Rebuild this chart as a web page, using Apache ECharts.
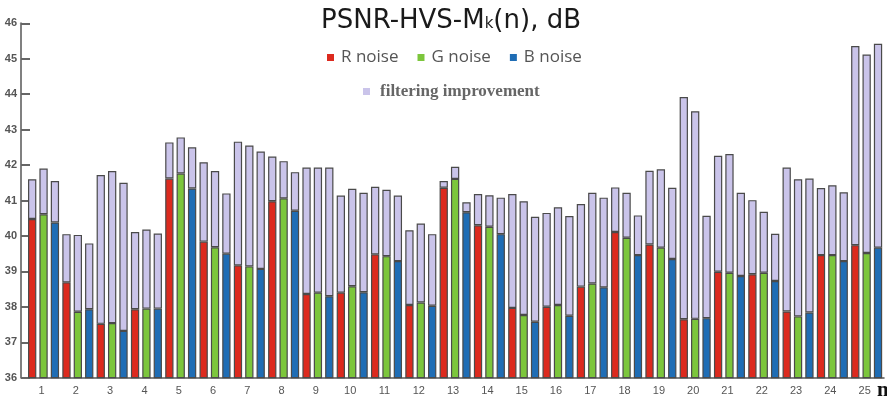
<!DOCTYPE html>
<html>
<head>
<meta charset="utf-8">
<script src="https://cdn.jsdelivr.net/npm/echarts@6/dist/echarts.min.js"></script>
<style>html,body{margin:0;padding:0;background:#fff}#c{width:887px;height:402px}</style>
</head>
<body>
<div id="c"></div>
<script>
const categories = ['1','2','3','4','5','6','7','8','9','10','11','12','13','14','15','16','17','18','19','20','21','22','23','24','25'];
const rNoise = [40.48,38.69,37.52,37.93,41.62,39.84,39.17,40.98,38.36,38.40,39.48,38.05,41.36,40.30,37.97,38.00,38.57,40.11,39.76,37.65,38.99,38.92,37.87,39.46,39.74];
const gNoise = [40.61,37.86,37.54,37.95,41.76,39.68,39.14,41.06,38.40,38.58,39.43,38.12,41.61,40.26,37.77,38.05,38.66,39.95,39.67,37.66,38.96,38.96,37.73,39.46,39.52];
const bNoise = [40.38,37.93,37.32,37.95,41.34,39.50,39.07,40.71,38.30,38.41,39.29,38.03,40.67,40.05,37.58,37.75,38.55,39.46,39.35,37.68,38.87,38.73,37.84,39.29,39.67];
const rImprove = [1.12,1.36,4.20,2.18,1.02,2.24,3.49,1.26,3.57,2.74,1.91,2.11,0.19,0.88,3.21,2.65,2.33,1.26,2.08,6.27,3.27,2.09,4.06,1.89,5.62];
const gImprove = [1.29,2.17,4.29,2.23,1.02,2.15,3.41,1.05,3.53,2.75,1.87,2.23,0.34,0.89,3.21,2.76,2.56,1.27,2.21,5.86,3.35,1.72,3.87,1.97,5.60];
const bImprove = [1.17,1.86,4.18,2.12,1.16,1.70,3.31,1.09,3.63,2.81,1.85,2.02,0.28,1.03,2.96,2.81,2.53,1.12,2.01,2.89,2.35,1.33,3.78,1.94,5.75];
const yTicks = {min: 36, max: 46, interval: 1};

const RED = '#dc2a1e', GREEN = '#7cc63c', BLUE = '#1f6db5', LAV = '#cac4ea';
const border = {borderColor: '#4a4a4a', borderWidth: 1.2};
const BW = 8.3;

function bar(name, data, stack, color) {
  return {
    name, type: 'bar', stack, data, barWidth: BW, barGap: '37%',
    itemStyle: Object.assign({color}, border),
    emphasis: {disabled: true}, animation: false
  };
}

const chart = echarts.init(document.getElementById('c'), null, {renderer: 'canvas'});
chart.setOption({
  animation: false,
  title: [{
    text: '{a|PSNR-HVS-M}{b|k}{a|(n), dB}',
    left: 321, top: 6, padding: 0,
    textStyle: {
      rich: {
        a: {fontFamily: 'DejaVu Sans', fontSize: 26, fontWeight: 'normal', color: '#1a1a1a', lineHeight: 30},
        b: {fontFamily: 'DejaVu Sans', fontSize: 15, fontWeight: 'normal', color: '#1a1a1a', lineHeight: 30, verticalAlign: 'bottom', padding: [0, 0, 4, 0]}
      }
    }
  }, {
    text: 'n', left: 877, top: 380, padding: 0,
    textStyle: {fontFamily: 'Liberation Serif', fontWeight: 'bold', fontSize: 21, color: '#111'}
  }],
  legend: [{
    data: ['R noise', 'G noise', 'B noise'],
    left: 322, top: 44,
    icon: 'rect', itemWidth: 7, itemHeight: 7, itemGap: 19,
    itemStyle: {borderWidth: 0},
    textStyle: {fontFamily: 'Open Sans', fontSize: 17, color: '#555', padding: [0, 0, 0, 2]},
    selectedMode: false
  }, {
    data: ['filtering improvement'],
    left: 358, top: 78,
    icon: 'rect', itemWidth: 7, itemHeight: 7,
    itemStyle: {borderWidth: 0},
    textStyle: {fontFamily: 'Liberation Serif', fontWeight: 'bold', fontSize: 17, color: '#666', padding: [0, 0, 0, 5]},
    selectedMode: false
  }],
  grid: {left: 26.4, right: 3.2, top: 23.3, bottom: 24.3, containLabel: false},
  xAxis: {
    type: 'category', data: categories,
    axisLine: {lineStyle: {color: '#808080', width: 2}},
    axisTick: {show: false},
    axisLabel: {fontFamily: 'Liberation Sans', fontSize: 11, color: '#555', margin: 8, padding: [0, 4, 0, 0]}
  },
  yAxis: {
    type: 'value', min: yTicks.min, max: yTicks.max, interval: yTicks.interval,
    offset: 5.4,
    splitLine: {show: false},
    axisLine: {show: true, lineStyle: {color: '#808080', width: 2}},
    axisTick: {show: true, inside: true, length: 9, lineStyle: {color: '#666', width: 2}},
    axisLabel: {fontFamily: 'Liberation Sans', fontSize: 11, fontWeight: 'bold', color: '#555', margin: 4}
  },
  series: [
    bar('R noise', rNoise, 'r', RED),
    bar('G noise', gNoise, 'g', GREEN),
    bar('B noise', bNoise, 'b', BLUE),
    bar('filtering improvement', rImprove, 'r', LAV),
    bar('filtering improvement', gImprove, 'g', LAV),
    bar('filtering improvement', bImprove, 'b', LAV)
  ]
});
</script>
</body>
</html>
